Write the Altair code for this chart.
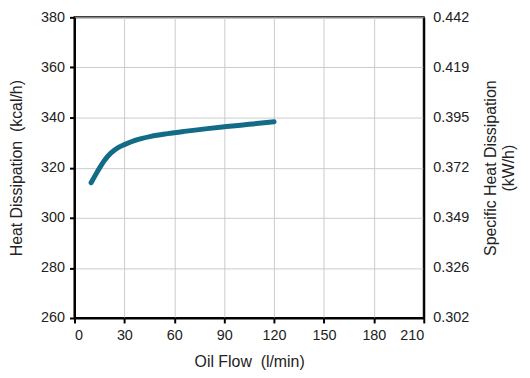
import altair as alt
import pandas as pd

oil_flow = [10, 14, 18, 22, 26, 30, 36, 46, 56, 66, 80, 90, 105, 120]
heat_kcal = [314.0, 318.7, 322.9, 325.9, 327.9, 329.2, 330.8, 332.5, 333.6, 334.5, 335.6, 336.3, 337.3, 338.3]

x_ticks = [0, 30, 60, 90, 120, 150, 180, 210]
y_ticks = [260, 280, 300, 320, 340, 360, 380]
right_labels = ["0.302", "0.326", "0.349", "0.372", "0.395", "0.419", "0.442"]

df = pd.DataFrame({"flow": oil_flow, "heat": heat_kcal})

FONT = "Liberation Sans"
NB = "\u00a0"

label_expr = "[" + ",".join("'%s'" % s for s in right_labels) + "][indexof([" + \
    ",".join(str(v) for v in y_ticks) + "], datum.value)]"

x_enc = alt.X("flow:Q", scale=alt.Scale(domain=[0, 210], nice=False),
              axis=alt.Axis(values=x_ticks, title="Oil Flow" + NB + NB + "(l/min)", grid=True,
                            labelPadding=6, titlePadding=11))

line = alt.Chart(df).mark_line(color="#136c87", strokeWidth=5, strokeCap="round",
                               interpolate="monotone").encode(
    x=x_enc,
    y=alt.Y("heat:Q", scale=alt.Scale(domain=[260, 380], nice=False),
            axis=alt.Axis(values=y_ticks, title="Heat Dissipation" + NB + NB + "(kcal/h)", grid=True,
                          orient="left", labelPadding=5, titlePadding=16)),
)

right = alt.Chart(df).mark_line(opacity=0).encode(
    x=x_enc,
    y=alt.Y("heat:Q", scale=alt.Scale(domain=[260, 380], nice=False),
            axis=alt.Axis(values=y_ticks, orient="right", grid=False, ticks=False,
                          labelExpr=label_expr, labelPadding=9,
                          title=["Specific Heat Dissipation", "(kW/h)"],
                          titleAngle=270, titlePadding=12)),
)

chart = alt.layer(line, right).resolve_scale(y="independent").properties(
    width=352, height=303,
    padding={"left": 0, "top": 0, "right": 5, "bottom": 2},
).configure_view(
    stroke="black", strokeWidth=2
).configure_axis(
    labelFont=FONT, titleFont=FONT, labelFontSize=14.5, titleFontSize=16,
    labelColor="#222", titleColor="#222", titleFontWeight="normal",
    domainColor="black", domainWidth=2, tickColor="black", tickWidth=2, tickSize=5,
    gridColor="#cccccc", gridWidth=1,
)

chart.save("out.html", embed_options={"renderer": "svg", "actions": False})
